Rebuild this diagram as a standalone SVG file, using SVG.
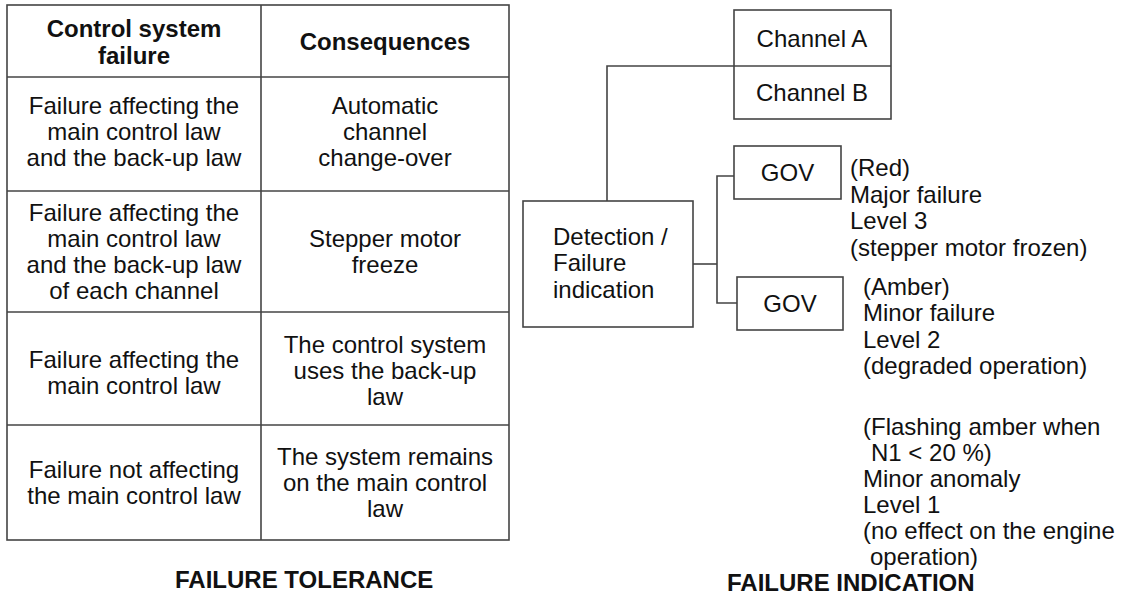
<svg xmlns="http://www.w3.org/2000/svg" width="1128" height="596" viewBox="0 0 1128 596">
<style>
.t{font-family:"Liberation Sans",Arial,sans-serif;font-size:24px;fill:#111}
.b{font-weight:bold}
.c{text-anchor:middle}
.ln{stroke:#444;stroke-width:1.6;fill:none}
.box{stroke:#444;stroke-width:1.6;fill:#fff}
</style>
<rect width="1128" height="596" fill="#fff"/>
<g id="table">
<rect class="box" x="7" y="5" width="502" height="535"/>
<line class="ln" x1="261" y1="5" x2="261" y2="540"/>
<line class="ln" x1="7" y1="77" x2="509" y2="77"/>
<line class="ln" x1="7" y1="191" x2="509" y2="191"/>
<line class="ln" x1="7" y1="312" x2="509" y2="312"/>
<line class="ln" x1="7" y1="425" x2="509" y2="425"/>
<text class="t b c" x="134" y="37">Control system</text>
<text class="t b c" x="134" y="64">failure</text>
<text class="t b c" x="385" y="50">Consequences</text>
<text class="t c" x="134" y="114">Failure affecting the</text>
<text class="t c" x="134" y="140">main control law</text>
<text class="t c" x="134" y="166">and the back-up law</text>
<text class="t c" x="385" y="114">Automatic</text>
<text class="t c" x="385" y="140">channel</text>
<text class="t c" x="385" y="166">change-over</text>
<text class="t c" x="134" y="221">Failure affecting the</text>
<text class="t c" x="134" y="247">main control law</text>
<text class="t c" x="134" y="273">and the back-up law</text>
<text class="t c" x="134" y="299">of each channel</text>
<text class="t c" x="385" y="247">Stepper motor</text>
<text class="t c" x="385" y="273">freeze</text>
<text class="t c" x="134" y="368">Failure affecting the</text>
<text class="t c" x="134" y="394">main control law</text>
<text class="t c" x="385" y="353">The control system</text>
<text class="t c" x="385" y="379">uses the back-up</text>
<text class="t c" x="385" y="405">law</text>
<text class="t c" x="134" y="478">Failure not affecting</text>
<text class="t c" x="134" y="504">the main control law</text>
<text class="t c" x="385" y="465">The system remains</text>
<text class="t c" x="385" y="491">on the main control</text>
<text class="t c" x="385" y="517">law</text>
<text class="t b" x="175" y="588">FAILURE TOLERANCE</text>
</g>
<g id="connectors">
<polyline class="ln" points="607,201 607,66 734,66"/>
<line class="ln" x1="693" y1="264" x2="717" y2="264"/>
<polyline class="ln" points="734,176 717,176 717,303 737,303"/>
</g>
<g id="channels">
<rect class="box" x="734" y="10" width="157" height="109"/>
<line class="ln" x1="734" y1="66" x2="891" y2="66"/>
<text class="t c" x="812" y="47">Channel A</text>
<text class="t c" x="812" y="101">Channel B</text>
</g>
<g id="detection">
<rect class="box" x="523" y="201" width="170" height="126"/>
<text class="t" x="553" y="245">Detection /</text>
<text class="t" x="553" y="271">Failure</text>
<text class="t" x="553" y="298">indication</text>
</g>
<g id="gov-red">
<rect class="box" x="734" y="146" width="107" height="53"/>
<text class="t c" x="787.5" y="181">GOV</text>
</g>
<g id="gov-amber">
<rect class="box" x="737" y="277" width="106" height="53"/>
<text class="t c" x="790" y="312">GOV</text>
</g>
<g id="red-text">
<text class="t" x="850" y="176">(Red)</text>
<text class="t" x="850" y="203">Major failure</text>
<text class="t" x="850" y="229">Level 3</text>
<text class="t" x="850" y="256">(stepper motor frozen)</text>
</g>
<g id="amber-text">
<text class="t" x="863" y="295">(Amber)</text>
<text class="t" x="863" y="321">Minor failure</text>
<text class="t" x="863" y="348">Level 2</text>
<text class="t" x="863" y="374">(degraded operation)</text>
<text class="t" x="863" y="435">(Flashing amber when</text>
<text class="t" x="871" y="461">N1 &lt; 20 %)</text>
<text class="t" x="863" y="487">Minor anomaly</text>
<text class="t" x="863" y="513">Level 1</text>
<text class="t" x="863" y="539">(no effect on the engine</text>
<text class="t" x="870" y="565">operation)</text>
</g>
<text class="t b" x="727" y="591">FAILURE INDICATION</text>
</svg>
